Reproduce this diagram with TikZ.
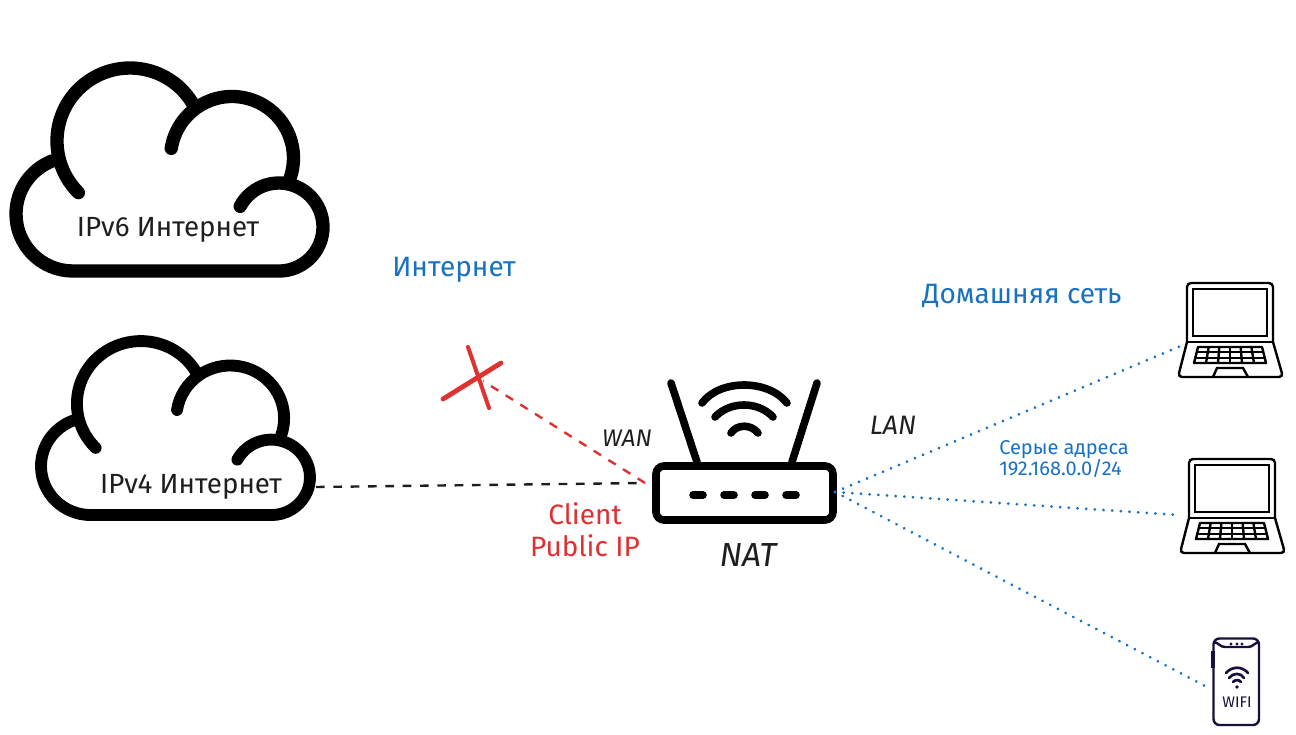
\documentclass[tikz,border=0pt]{standalone}
\usepackage{fontspec}
\setmainfont{Fira Sans}
\definecolor{ink}{HTML}{1E1E1E}
\definecolor{redx}{HTML}{E03131}
\definecolor{bluex}{HTML}{1971C2}
\definecolor{navy}{HTML}{1A0F3C}
\newcommand\arcfrom[4]{({#1+#3*cos(#4)},{#2+#3*sin(#4)})}
\newcommand\cloudshape{%
  \draw \arcfrom{130}{141}{73}{135} arc[start angle=135,end angle=330,radius=73];
  \draw \arcfrom{232}{158}{61.5}{189} arc[start angle=189,end angle=379,radius=61.5];
  \draw \arcfrom{279}{227}{44}{208} arc[start angle=208,end angle=450,radius=44]
     -- (73,271) arc[start angle=90,end angle=249,radius=57];
}
\newcommand\laptopshape{%
  \draw[rounded corners=3pt] (1187,342) -- (1187,283) -- (1273,283) -- (1273,342);
  \draw (1193,289) rectangle (1267,336);
  \draw (1187,342) -- (1273,342);
  \draw[rounded corners=3pt] (1187,342) -- (1178,377) -- (1283,377) -- (1273,342);
  \draw (1213,377) -- (1217,368) -- (1243,368) -- (1248,377);
  \draw[line join=round] (1198,347) -- (1262,347) -- (1266,363) -- (1194,363) -- cycle;
  \foreach \t in {0.33,0.67} \draw ({1198-4*\t},{347+16*\t}) -- ({1262+4*\t},{347+16*\t});
  \foreach \i in {1,...,5} \draw ({1198+64*\i/6},347) -- ({1194+72*\i/6},363);
}
\tikzset{
  cloudline/.style={line width=10pt,line cap=round,black},
  laptopline/.style={line width=1.8pt,black},
  routerline/.style={line width=5.7pt,line cap=round,black},
  phoneline/.style={line width=1.8pt,navy,line cap=round},
  blacklabel/.style={ink,font=\fontsize{20.8}{24}\selectfont,inner sep=0pt},
  slantlabel/.style={ink,inner sep=0pt},
  bluedots/.style={bluex,line width=2.3pt,line cap=round,dash pattern=on 0.01pt off 6.5pt},
  dashlink/.style={line width=1.8pt,dash pattern=on 6.5pt off 6.5pt},
  crossline/.style={redx,line cap=round},
}
\begin{document}
\begin{tikzpicture}[x=0.75pt,y=-0.75pt]
\useasboundingbox (0,0) rectangle (1296,735);
% clouds
\begin{scope}[cloudline]\cloudshape\end{scope}
\begin{scope}[cloudline,line width=8.9pt,shift={(27,282.8)},xscale=.876,yscale=.857]\cloudshape\end{scope}
\node[blacklabel] (ipsix) at (168,230) {IPv6 Интернет};
\node[blacklabel] (ipfour) at (191,487) {IPv4 Интернет};
% router
\draw[routerline,rounded corners=6pt] (656,466) rectangle (833,520);
\foreach \x in {698,729,760,791} \draw[routerline] (\x-5,495) -- (\x+5,495);
\draw[routerline] (671,383) -- (697,462);
\draw[routerline] (817,383) -- (792,462);
\draw[routerline] (702,403) .. controls (720,379) and (768,379) .. (787,403);
\draw[routerline] (715,417) .. controls (730,401) and (758,401) .. (773,417);
\draw[routerline] (731,433) .. controls (737,424) and (751,424) .. (758,433);
% end points
\coordinate (cloudEast) at (316,487);
\coordinate (routerWest) at (645,483);
\coordinate (routerEast) at (835,492);
\coordinate (crossHub) at (483,381);
\coordinate (lapA) at (1183,345);
\coordinate (lapB) at (1178,515);
\coordinate (phoneEnd) at (1205,686);
% cross
\draw[crossline,line width=3pt] (468,347) -- (489,408);
\draw[crossline,line width=3.6pt] (443,399) -- (501,363);
% connectors
\draw[dashlink,ink] (cloudEast) -- (routerWest);
\draw[dashlink,redx] (routerWest) -- (crossHub);
\draw[bluedots] (routerEast) -- (lapA);
\draw[bluedots] (routerEast) -- (lapB);
\draw[bluedots] (routerEast) -- (phoneEnd);
% laptops
\begin{scope}[laptopline]\laptopshape\end{scope}
\begin{scope}[laptopline,shift={(2,176)}]\laptopshape\end{scope}
% phone
\draw[phoneline,rounded corners=4.5pt] (1213.5,638.5) rectangle (1259,725);
\draw[phoneline] (1214,642) .. controls (1219,643) and (1220,647) .. (1225,647) -- (1248,647) .. controls (1253,647) and (1254,643) .. (1258,642);
\foreach \x in {1231,1237,1242} \fill[navy] (\x,644) circle (1.7);
\draw[navy,line width=2.8pt] (1213,651) -- (1213,668);
\draw[phoneline,line width=2pt] (1226,673) .. controls (1232,666) and (1242,666) .. (1248,673);
\draw[phoneline,line width=2pt] (1229,678) .. controls (1233,672.5) and (1241,672.5) .. (1244,678);
\draw[phoneline,line width=2pt] (1233,682) .. controls (1235,679.5) and (1239,679.5) .. (1241,682);
\fill[navy] (1237,687) circle (1.9);
\node[navy,inner sep=0pt,font=\fontsize{11.5}{13}\selectfont] (wifi) at (1237,702) {WIFI};
% labels
\node[slantlabel,font=\fontsize{18}{22}\selectfont\itshape] (wan) at (627,438) {WAN};
\node[slantlabel,font=\fontsize{20}{24}\selectfont\itshape] (lan) at (893,425) {LAN};
\node[slantlabel,font=\fontsize{25}{30}\selectfont\itshape] (nat) at (748,555) {NAT};
\node[redx,inner sep=0pt,align=center,font=\fontsize{21}{24}\selectfont] (pubip) at (585,530) {Client\\Public IP};
\node[bluex,inner sep=0pt,font=\fontsize{21}{25}\selectfont] (inet) at (454,270) {Интернет};
\node[bluex,inner sep=0pt,font=\fontsize{21}{25}\selectfont] (homenet) at (1022,296) {Домашняя сеть};
\node[bluex,inner sep=0pt,align=left,font=\fontsize{15}{14.3}\selectfont] (grey) at (1064,459) {Серые адреса\\192.168.0.0/24};
\end{tikzpicture}
\end{document}
